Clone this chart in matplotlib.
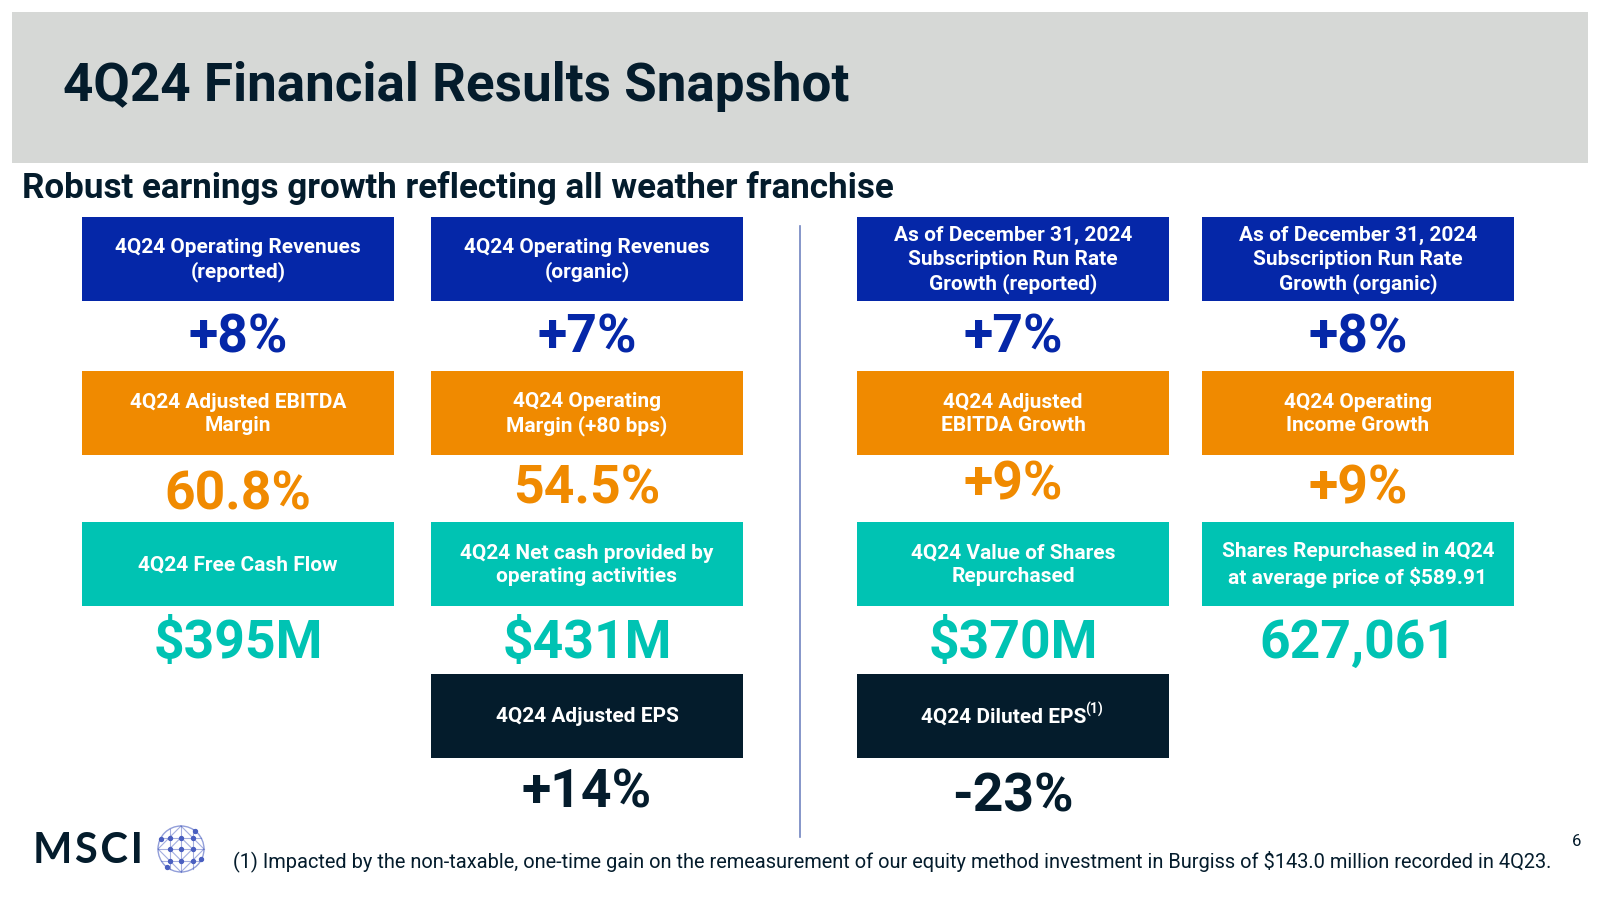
import numpy as np
import matplotlib.pyplot as plt
from matplotlib.patches import Rectangle, Circle

plt.rcParams['font.family'] = ['Roboto', 'DejaVu Sans']

# ---- slide content ----
title = "4Q24 Financial Results Snapshot"
subtitle = "Robust earnings growth reflecting all weather franchise"
footnote = ("(1) Impacted by the non-taxable, one-time gain on the remeasurement of our equity "
            "method investment in Burgiss of $143.0 million recorded in 4Q23.")
pageNum = "6"

# one entry per tile: column index, row index, label, value, colour key
tileCols = [0, 1, 2, 3,
            0, 1, 2, 3,
            0, 1, 2, 3,
            1, 2]
tileRows = [0, 0, 0, 0,
            1, 1, 1, 1,
            2, 2, 2, 2,
            3, 3]
tileLabels = ["4Q24 Operating Revenues\n(reported)",
              "4Q24 Operating Revenues\n(organic)",
              "As of December 31, 2024\nSubscription Run Rate\nGrowth (reported)",
              "As of December 31, 2024\nSubscription Run Rate\nGrowth (organic)",
              "4Q24 Adjusted EBITDA\nMargin",
              "4Q24 Operating\nMargin (+80 bps)",
              "4Q24 Adjusted\nEBITDA Growth",
              "4Q24 Operating\nIncome Growth",
              "4Q24 Free Cash Flow",
              "4Q24 Net cash provided by\noperating activities",
              "4Q24 Value of Shares\nRepurchased",
              "Shares Repurchased in 4Q24\nat average price of $589.91",
              "4Q24 Adjusted EPS",
              "4Q24 Diluted EPS"]
tileValues = ["+8%", "+7%", "+7%", "+8%",
              "60.8%", "54.5%", "+9%", "+9%",
              "$395M", "$431M", "$370M", "627,061",
              "+14%", "-23%"]
tileFootRef = [""] * 13 + ["(1)"]

rowColors = ["#0527a8", "#f08a00", "#00c3b3", "#041c2c"]
navy = "#041c2c"

# ---- layout (pixels, 1600x900 canvas) ----
colLeft = [82, 431, 857, 1202]
boxW = 312
rowTop = [217, 371, 522, 674]
boxH = 84
valueY = [[338, 338, 338, 338],
          [495, 489, 485, 489],
          [643, 643, 643, 643],
          [793, 793, 797, 797]]

fig = plt.figure(figsize=(16, 9), dpi=100)
ax = fig.add_axes([0, 0, 1, 1])
ax.set_xlim(0, 1600)
ax.set_ylim(900, 0)
ax.axis('off')

# header band
ax.add_patch(Rectangle((12, 12), 1576, 151, color="#d6d8d6", lw=0))
ax.text(63, 87, title, fontsize=38.2, fontweight='bold', color=navy, va='center', ha='left')
ax.text(22, 188, subtitle, fontsize=25.2, fontweight='bold', color=navy, va='center', ha='left')

# divider
ax.plot([800, 800], [226, 837], color="#7184c0", lw=1.2)

for c, r, lab, val, ref in zip(tileCols, tileRows, tileLabels, tileValues, tileFootRef):
    x0 = colLeft[c]
    y0 = rowTop[r]
    col = rowColors[r]
    ax.add_patch(Rectangle((x0, y0), boxW, boxH, color=col, lw=0))
    cx = x0 + boxW / 2
    cy = y0 + boxH / 2
    if ref:
        t = ax.text(cx - 9, cy + 1, lab, fontsize=15, fontweight='bold', color='white',
                    ha='center', va='center', linespacing=1.3)
        ax.annotate(ref, xy=(1, 1), xycoords=t, fontsize=10, fontweight='bold',
                    color='white', ha='left', va='top', xytext=(-1, 4), textcoords='offset points')
    else:
        ax.text(cx, cy + 1, lab, fontsize=15, fontweight='bold', color='white',
                ha='center', va='center', linespacing=1.3)
    ax.text(cx, valueY[r][c], val, fontsize=38.5, fontweight='bold', color=col,
            ha='center', va='center')

# logo
ax.text(33, 851, "M\u200aS\u200aC\u200aI", fontsize=30, fontweight='bold', color=navy,
        ha='left', va='center', family=['Lato', 'Roboto', 'DejaVu Sans'])
gx, gy, gr = 181, 849, 23
gcol = "#4a5fc0"
ax.add_patch(Circle((gx, gy), gr, fill=False, ec=gcol, lw=1.0, alpha=0.6))
for k in [-0.5, 0, 0.5]:
    h = gr * np.sqrt(1 - k ** 2)
    ax.plot([gx + k * gr, gx + k * gr], [gy - h, gy + h], color=gcol, lw=0.8, alpha=0.5)
    ax.plot([gx - h, gx + h], [gy + k * gr, gy + k * gr], color=gcol, lw=0.8, alpha=0.5)
dx = [0, gr, 0, -gr, 0]
dy = [-gr, 0, gr, 0, -gr]
ax.plot(gx + np.array(dx), gy + np.array(dy), color=gcol, lw=0.8, alpha=0.5)
ax.plot(gx + np.array(dx) / 2, gy + np.array(dy) / 2, color=gcol, lw=0.8, alpha=0.5)
ptsX = [0, 0.5, -0.5, 0, 0, 0.5, -0.5, 0.5, -0.5, 0.85, -0.85, 0.6, -0.6]
ptsY = [0, 0, 0, 0.5, -0.5, 0.5, 0.5, -0.5, -0.5, 0.45, -0.45, -0.8, 0.8]
ax.scatter(gx + np.array(ptsX) * gr, gy + np.array(ptsY) * gr, s=8, color=gcol, zorder=3)

ax.text(233, 861, footnote, fontsize=14.4, color=navy, ha='left', va='center')
ax.text(1577, 841, pageNum, fontsize=12, color=navy, ha='center', va='center')

fig.savefig("out.png", dpi=100)
